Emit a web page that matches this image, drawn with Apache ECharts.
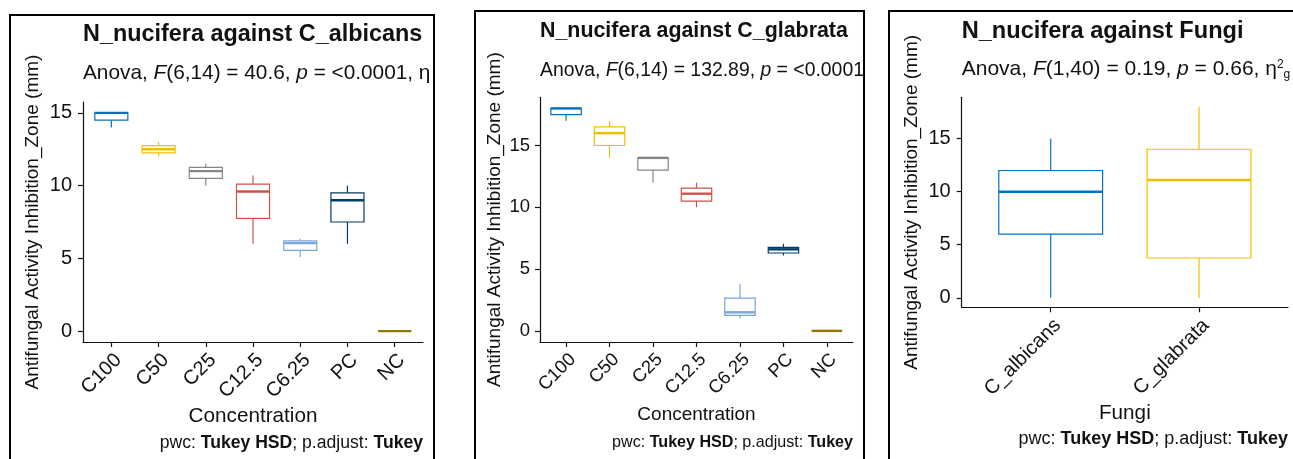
<!DOCTYPE html>
<html>
<head>
<meta charset="utf-8">
<script src="https://cdn.jsdelivr.net/npm/echarts@6/dist/echarts.min.js"></script>
<style>
html, body { margin: 0; padding: 0; background: #fff; width: 1293px; height: 459px; overflow: hidden; }
.panel { position: absolute; border: 2px solid #000; box-sizing: border-box; overflow: hidden; background: #fff; }
</style>
</head>
<body>
<div id="p1" class="panel" style="left:9px;top:14px;width:426px;height:470px"></div>
<div id="p2" class="panel" style="left:474px;top:10px;width:391px;height:470px"></div>
<div id="p3" class="panel" style="left:888px;top:10px;width:420px;height:470px"></div>
<script>
// categories
var concentration = ['C100', 'C50', 'C25', 'C12.5', 'C6.25', 'PC', 'NC'];
var fungi = ['C_albicans', 'C_glabrata'];

// box summaries: min, Q1, median, Q3, max
var albicansBox = [
    [14, 14.5, 15, 15, 15],
    [12, 12.25, 12.5, 12.75, 13],
    [10, 10.5, 11, 11.25, 11.5],
    [6, 7.75, 9.6, 10.1, 10.7],
    [5.1, 5.55, 6.05, 6.2, 6.35],
    [6, 7.5, 9, 9.5, 10],
    [0, 0, 0, 0, 0]
];
var glabrataBox = [
    [17, 17.5, 18, 18, 18],
    [14, 15, 16, 16.5, 17],
    [12, 13, 14, 14, 14],
    [10, 10.5, 11.1, 11.55, 12],
    [1, 1.25, 1.5, 2.65, 3.8],
    [6.1, 6.3, 6.6, 6.75, 7.05],
    [0, 0, 0, 0, 0]
];
var fungiBox = [
    [0, 6, 10, 12, 15],
    [0, 3.75, 11.1, 14, 18]
];
var yTicks = [0, 5, 10, 15];

var jco = ['#0073C2', '#EFC000', '#868686', '#CD534C', '#7AA6DC', '#003C67', '#8F7700'];
var font = '"Liberation Sans", Arial, sans-serif';
var ink = '#111';

// ggplot style box: no whisker caps, thick median
function boxItem(colors) {
    return function (params, api) {
        var x = api.value(0);
        var c = colors[params.dataIndex];
        var pMin = api.coord([x, api.value(1)]);
        var pQ1 = api.coord([x - 0.35, api.value(2)]);
        var pQ3 = api.coord([x + 0.35, api.value(4)]);
        var pMax = api.coord([x, api.value(5)]);
        var mL = api.coord([x - 0.35, api.value(3)]);
        var mR = api.coord([x + 0.35, api.value(3)]);
        var thin = { stroke: c, lineWidth: 1.2 };
        return {
            type: 'group',
            children: [
                { type: 'line', shape: { x1: pMin[0], y1: pMin[1], x2: pMin[0], y2: pQ1[1] }, style: thin },
                { type: 'line', shape: { x1: pMax[0], y1: pQ3[1], x2: pMax[0], y2: pMax[1] }, style: thin },
                { type: 'rect', shape: { x: pQ1[0], y: pQ3[1], width: pQ3[0] - pQ1[0], height: pQ1[1] - pQ3[1] },
                  style: { fill: '#fff', stroke: c, lineWidth: 1.2 } },
                { type: 'line', shape: { x1: mL[0], y1: mL[1], x2: mR[0], y2: mR[1] }, style: { stroke: c, lineWidth: 2.4 } }
            ]
        };
    };
}

function subRich(fs) {
    var base = { fontSize: fs, fontFamily: font, color: ink, fontWeight: 'normal', lineHeight: 22 };
    return {
        n: base,
        i: Object.assign({}, base, { fontStyle: 'italic' }),
        sup: { fontSize: 12, fontFamily: font, color: ink, fontWeight: 'normal', lineHeight: 12, verticalAlign: 'top' },
        sub: { fontSize: 12, fontFamily: font, color: ink, fontWeight: 'normal', lineHeight: 12, verticalAlign: 'bottom' }
    };
}
function capRich(fs) {
    return {
        n: { fontSize: fs, fontFamily: font, color: ink, fontWeight: 'normal' },
        b: { fontSize: fs, fontFamily: font, color: ink, fontWeight: 'bold' }
    };
}

function drawPanel(dom, p) {
    var chart = echarts.init(dom);
    var n = p.cats.length;
    var fs = p.fs;
    var xTicks = p.cats.map(function (c, i) { return i; });
    var data = p.box.map(function (b, i) { return [i].concat(b); });
    var axisLine = { show: true, onZero: false, lineStyle: { color: ink, width: 1.2 } };
    var option = {
        animation: false,
        title: [{
            text: p.title, left: p.grid.left, top: 19 - fs.title / 2, padding: 0,
            textStyle: { fontSize: fs.title, fontWeight: 'bold', fontFamily: font, color: ink }
        }, {
            text: p.sub, left: p.grid.left, top: p.subTop, padding: 0,
            textStyle: { fontWeight: 'normal', rich: subRich(fs.sub) }
        }, {
            text: '{n|pwc: }{b|Tukey HSD}{n|; p.adjust: }{b|Tukey}', right: p.capRight, top: p.capY - fs.cap / 2, padding: 0,
            textStyle: { fontWeight: 'normal', rich: capRich(fs.cap) }
        }],
        grid: {
            left: p.grid.left, top: p.grid.top, width: p.grid.width, height: p.grid.height,
            outerBoundsMode: 'none'
        },
        xAxis: {
            type: 'value', min: -0.6, max: n - 0.4,
            name: p.xName, nameLocation: 'middle', nameGap: p.xGap, nameMoveOverlap: false,
            nameTextStyle: { fontSize: fs.xName, fontFamily: font, color: ink },
            splitLine: { show: false },
            axisLine: axisLine,
            axisTick: { show: true, length: 5, customValues: xTicks, lineStyle: { color: ink, width: 1.2 } },
            axisLabel: {
                customValues: xTicks, rotate: 45, align: 'right', verticalAlign: 'top', margin: 8,
                fontSize: fs.tick, fontFamily: font, color: ink,
                formatter: function (v) { return p.cats[Math.round(v)]; }
            }
        },
        yAxis: {
            type: 'value', min: p.yMin, max: p.yMax,
            name: 'Antifungal Activity Inhibition_Zone (mm)', nameLocation: 'middle', nameGap: p.yGap,
            nameMoveOverlap: false,
            nameTextStyle: { fontSize: 19, fontFamily: font, color: ink },
            splitLine: { show: false },
            axisLine: axisLine,
            axisTick: { show: true, length: 5, customValues: yTicks, lineStyle: { color: ink, width: 1.2 } },
            axisLabel: { customValues: yTicks, margin: p.yMargin, fontSize: fs.tick, fontFamily: font, color: ink }
        },
        series: [{
            type: 'custom',
            renderItem: boxItem(p.colors),
            data: data,
            encode: { x: 0, y: [1, 2, 3, 4, 5] }
        }]
    };
    chart.clear();
    chart.setOption(option);
    return chart;
}

drawPanel(document.getElementById('p1'), {
    cats: concentration, box: albicansBox, colors: jco,
    title: 'N_nucifera against C_albicans',
    sub: '{n|Anova, }{i|F}{n|(6,14) = 40.6, }{i|p}{n| = <0.0001, η}',
    xName: 'Concentration',
    fs: { title: 23.4, sub: 20.8, tick: 20, xName: 20.7, cap: 17.6 },
    grid: { left: 72, top: 86, width: 340, height: 240 },
    yMin: -0.75, yMax: 15.75, yGap: 40.5, xGap: 64, yMargin: 11,
    subTop: 46.5, capY: 427, capRight: 10
});
drawPanel(document.getElementById('p2'), {
    cats: concentration, box: glabrataBox, colors: jco,
    title: 'N_nucifera against C_glabrata',
    sub: '{n|Anova, }{i|F}{n|(6,14) = 132.89, }{i|p}{n| = <0.0001, η}',
    xName: 'Concentration',
    fs: { title: 21.4, sub: 19.4, tick: 18.5, xName: 19, cap: 16.1 },
    grid: { left: 64, top: 85.3, width: 313, height: 244.7 },
    yMin: -0.9, yMax: 18.9, yGap: 35.5, xGap: 63, yMargin: 10,
    subTop: 47.5, capY: 431, capRight: 10
});
drawPanel(document.getElementById('p3'), {
    cats: fungi, box: fungiBox, colors: jco,
    title: 'N_nucifera against Fungi',
    sub: '{n|Anova, }{i|F}{n|(1,40) = 0.19, }{i|p}{n| = 0.66, η}{sup|2}{sub|g}',
    xName: 'Fungi',
    fs: { title: 23.6, sub: 21, tick: 20, xName: 20.7, cap: 18 },
    grid: { left: 71.7, top: 85.3, width: 326.3, height: 210 },
    yMin: -0.9, yMax: 18.9, yGap: 40, xGap: 95, yMargin: 11,
    subTop: 46.5, capY: 427, capRight: 18
});
</script>
</body>
</html>
